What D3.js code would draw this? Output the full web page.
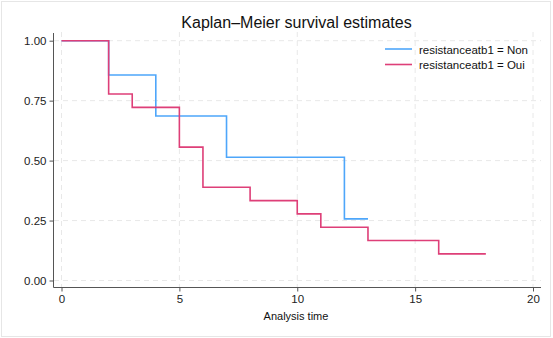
<!DOCTYPE html>
<html><head><meta charset="utf-8">
<script src="https://cdn.jsdelivr.net/npm/d3@7"></script>
<style>body{margin:0;background:#fff;} text{font-family:"Liberation Sans",Arial,sans-serif;}</style>
</head><body>
<svg id="c" width="553" height="338"></svg>
<script>
const seriesNames = ["resistanceatb1 = Non", "resistanceatb1 = Oui"];
const nonTimes = [0, 2, 4, 7, 12, 13];
const nonSurv  = [1.0, 0.857, 0.686, 0.514, 0.257, 0.257];
const ouiTimes = [0, 2, 3, 5, 6, 8, 10, 11, 13, 16, 18];
const ouiSurv  = [1.0, 0.778, 0.722, 0.556, 0.389, 0.333, 0.278, 0.222, 0.167, 0.111, 0.111];
const xTicks = [0, 5, 10, 15, 20];
const yTicks = [0, 0.25, 0.5, 0.75, 1.0];
const colors = ["#4ea6fa", "#de3f78"];

const svg = d3.select("#c");
svg.append("rect").attr("x",1.5).attr("y",1.5).attr("width",549).attr("height",335)
  .attr("fill","#fff").attr("stroke","#e6e6e6");

const x = d3.scaleLinear().domain([0,20]).range([61.5,533]);
const y = d3.scaleLinear().domain([0,1]).range([280.5,40.7]);

// grid
const g = svg.append("g");
xTicks.forEach(t=>g.append("line").attr("x1",x(t)).attr("x2",x(t)).attr("y1",32).attr("y2",287)
  .attr("stroke","#e8e8e8").attr("stroke-dasharray","5,4"));
yTicks.forEach(t=>g.append("line").attr("x1",54).attr("x2",541).attr("y1",y(t)).attr("y2",y(t))
  .attr("stroke","#e8e8e8").attr("stroke-dasharray","5,4"));

// axes
const xa = svg.append("g").attr("transform","translate(0,287.5)")
  .call(d3.axisBottom(x).tickValues(xTicks).tickFormat(d3.format("d")).tickSize(4).tickPadding(3).tickSizeOuter(0));
xa.select(".domain").attr("d","M53.5,0H541").attr("stroke","#555");
const ya = svg.append("g").attr("transform","translate(53.5,0)")
  .call(d3.axisLeft(y).tickValues(yTicks).tickFormat(d3.format(".2f")).tickSize(4).tickPadding(3).tickSizeOuter(0));
ya.select(".domain").attr("d","M0,33V287.5").attr("stroke","#555");
svg.selectAll(".tick line").attr("stroke","#555");
svg.selectAll(".tick text").attr("font-size","11.5px").attr("fill","#222")
  .attr("font-family","'Liberation Sans',Arial,sans-serif");

// lines
const line = d3.line().x(d=>x(d[0])).y(d=>y(d[1])).curve(d3.curveStepAfter);
[[nonTimes,nonSurv],[ouiTimes,ouiSurv]].forEach(([t,s],i)=>{
  svg.append("path").datum(t.map((v,j)=>[v,s[j]])).attr("d",line)
    .attr("fill","none").attr("stroke",colors[i]).attr("stroke-width",1.6);
});

// title & labels
svg.append("text").attr("x",296.5).attr("y",28).attr("text-anchor","middle")
  .attr("font-size","16px").attr("fill","#111").text("Kaplan–Meier survival estimates");
svg.append("text").attr("x",296).attr("y",320).attr("text-anchor","middle")
  .attr("font-size","11px").attr("fill","#111").text("Analysis time");

// legend
seriesNames.forEach((n,i)=>{
  const yy = 49 + i*15.5;
  svg.append("line").attr("x1",385).attr("x2",412).attr("y1",yy).attr("y2",yy)
    .attr("stroke",colors[i]).attr("stroke-width",1.6);
  svg.append("text").attr("x",419).attr("y",yy+4.5).attr("font-size","11.5px").attr("fill","#111").text(n);
});
</script>
</body></html>
